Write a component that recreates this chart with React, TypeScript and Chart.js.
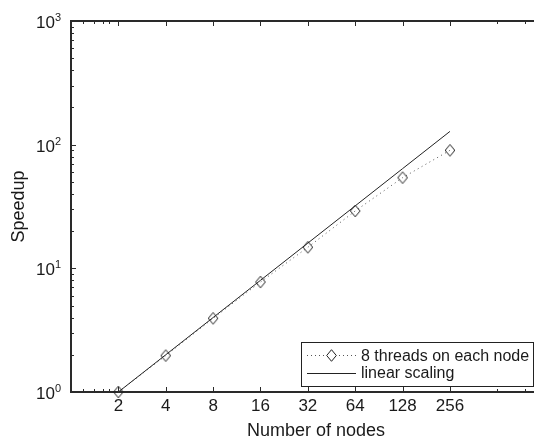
import React, { useEffect, useRef } from 'react';
import { Chart, registerables } from 'chart.js';

Chart.register(...registerables);

// ---- data ----
const nodes = [2, 4, 8, 16, 32, 64, 128, 256];
const speedup8Threads = [1, 1.97, 3.94, 7.75, 14.8, 29.1, 54.1, 90.0];
const linearScaling = [1, 2, 4, 8, 16, 32, 64, 128];

const xTickValues = [2, 4, 8, 16, 32, 64, 128, 256];
const xTickLabels = ['2', '4', '8', '16', '32', '64', '128', '256'];
const xMinorTicks = [1.2, 1.4, 1.6, 1.75, 512, 768];
const yTickValues = [1, 10, 100, 1000];
const yTickExponents = ['0', '1', '2', '3'];
const yDecades = [1, 10, 100];
const yMinorFactors = [2, 3, 4, 5, 6, 7, 8, 9];

const seriesLabels = ['8 threads on each node', 'linear scaling'];
const xTitle = 'Number of nodes';
const yTitle = 'Speedup';

const FONT = '"Liberation Sans", Arial, Helvetica, sans-serif';
const INK = '#1a1a1a';

function diamond(ctx: CanvasRenderingContext2D, x: number, y: number, rx: number, ry: number) {
  ctx.beginPath();
  ctx.moveTo(x, y - ry);
  ctx.lineTo(x + rx, y);
  ctx.lineTo(x, y + ry);
  ctx.lineTo(x - rx, y);
  ctx.closePath();
  ctx.stroke();
}

function makeDiamondImage(): HTMLCanvasElement {
  const c = document.createElement('canvas');
  c.width = 12;
  c.height = 14;
  const g = c.getContext('2d') as CanvasRenderingContext2D;
  g.strokeStyle = '#222';
  g.lineWidth = 1;
  diamond(g, 6, 7, 4.8, 5.8);
  return c;
}

const matlabAxes = {
  id: 'matlabAxes',
  beforeDatasetsDraw(chart: any) {
    const { ctx, chartArea, scales } = chart;
    const xs = scales.x;
    const ys = scales.y;
    const { left, right, top, bottom } = chartArea;
    ctx.save();
    ctx.strokeStyle = '#2a2a2a';
    ctx.lineWidth = 1;
    const tickX = (v: number, len: number) => {
      const px = Math.round(xs.getPixelForValue(v)) + 0.5;
      ctx.beginPath();
      ctx.moveTo(px, bottom);
      ctx.lineTo(px, bottom - len);
      ctx.moveTo(px, top);
      ctx.lineTo(px, top + len);
      ctx.stroke();
    };
    const tickY = (v: number, len: number) => {
      const py = Math.round(ys.getPixelForValue(v)) + 0.5;
      ctx.beginPath();
      ctx.moveTo(left, py);
      ctx.lineTo(left + len, py);
      ctx.moveTo(right, py);
      ctx.lineTo(right - len, py);
      ctx.stroke();
    };
    xTickValues.forEach((v) => tickX(v, 5));
    xMinorTicks.forEach((v) => tickX(v, 3));
    yTickValues.forEach((v) => tickY(v, 5));
    yDecades.forEach((d) => yMinorFactors.forEach((m) => tickY(d * m, 3)));
    ctx.lineWidth = 2;
    ctx.beginPath();
    ctx.moveTo(right, top);
    ctx.lineTo(left, top);
    ctx.lineTo(left, bottom);
    ctx.lineTo(right, bottom);
    ctx.lineTo(right, top);
    ctx.stroke();
    ctx.restore();
  },
  afterDraw(chart: any) {
    const { ctx, chartArea, scales } = chart;
    const xs = scales.x;
    const ys = scales.y;
    ctx.save();
    ctx.fillStyle = INK;
    ctx.font = `17px ${FONT}`;
    ctx.textAlign = 'center';
    ctx.textBaseline = 'alphabetic';
    xTickValues.forEach((v, i) => {
      ctx.fillText(xTickLabels[i], xs.getPixelForValue(v), chartArea.bottom + 18.5);
    });
    yTickValues.forEach((v, i) => {
      const py = ys.getPixelForValue(v);
      ctx.font = `17px ${FONT}`;
      ctx.textAlign = 'right';
      ctx.fillText('10', 55, py + 7);
      ctx.font = `11px ${FONT}`;
      ctx.textAlign = 'left';
      ctx.fillText(yTickExponents[i], 55, py);
    });
    // legend
    const bx = 301.5, by = 342.5, bw = 232, bh = 44;
    ctx.fillStyle = '#ffffff';
    ctx.fillRect(bx, by, bw, bh);
    ctx.strokeStyle = '#222';
    ctx.lineWidth = 1;
    ctx.strokeRect(bx, by, bw, bh);
    ctx.strokeStyle = '#555';
    ctx.setLineDash([1, 3]);
    ctx.beginPath();
    ctx.moveTo(307, 355.5);
    ctx.lineTo(356, 355.5);
    ctx.stroke();
    ctx.setLineDash([]);
    ctx.fillStyle = '#ffffff';
    ctx.fillRect(325, 348, 14, 15);
    ctx.strokeStyle = '#222';
    diamond(ctx, 331.5, 355.5, 4.8, 5.8);
    ctx.beginPath();
    ctx.moveTo(307, 373.5);
    ctx.lineTo(356, 373.5);
    ctx.stroke();
    ctx.fillStyle = INK;
    ctx.font = `16px ${FONT}`;
    ctx.textAlign = 'left';
    ctx.fillText(seriesLabels[0], 361, 360.5);
    ctx.fillText(seriesLabels[1], 361, 378);
    ctx.restore();
  },
};

export default function App() {
  const canvasRef = useRef<HTMLCanvasElement | null>(null);

  useEffect(() => {
    const canvas = canvasRef.current;
    if (!canvas) return;
    Chart.defaults.font.family = FONT;
    const diamondImg = makeDiamondImage();
    const chart = new Chart(canvas, {
      type: 'line',
      data: {
        datasets: [
          {
            label: seriesLabels[1],
            data: nodes.map((n, i) => ({ x: n, y: linearScaling[i] })),
            borderColor: '#222',
            borderWidth: 1,
            pointRadius: 0,
            fill: false,
            clip: false as any,
          },
          {
            label: seriesLabels[0],
            data: nodes.map((n, i) => ({ x: n, y: speedup8Threads[i] })),
            borderColor: '#555',
            borderWidth: 1,
            borderDash: [1, 3.5],
            pointStyle: diamondImg as any,
            pointRadius: 6,
            fill: false,
            clip: false as any,
          },
        ],
      },
      options: {
        responsive: false,
        animation: false,
        events: [],
        layout: { padding: { top: 21, right: 19, left: 0, bottom: 0 } },
        plugins: { legend: { display: false }, tooltip: { enabled: false } },
        scales: {
          x: {
            type: 'logarithmic',
            position: 'bottom',
            min: 1,
            max: 1300,
            grid: { display: false },
            border: { display: false },
            ticks: { display: false },
            title: {
              display: true,
              text: xTitle,
              color: INK,
              font: { size: 18, lineHeight: 1, family: FONT },
              padding: { top: 0, bottom: 0 },
            },
            afterFit: (s: any) => {
              s.height = 48;
            },
          },
          y: {
            type: 'logarithmic',
            position: 'left',
            min: 1,
            max: 1000,
            grid: { display: false },
            border: { display: false },
            ticks: { display: false },
            title: {
              display: true,
              text: yTitle,
              color: INK,
              font: { size: 18, lineHeight: 1, family: FONT },
              padding: { top: 10, bottom: 0 },
            },
            afterFit: (s: any) => {
              s.width = 71;
            },
          },
        },
      } as any,
      plugins: [matlabAxes],
    });
    return () => chart.destroy();
  }, []);

  return (
    <div
      style={{
        position: 'absolute',
        left: 0,
        top: 0,
        width: 534,
        height: 440,
        overflow: 'hidden',
        background: '#fff',
      }}
    >
      <canvas ref={canvasRef} width={580} height={440} style={{ width: 580, height: 440, display: 'block' }} />
    </div>
  );
}
